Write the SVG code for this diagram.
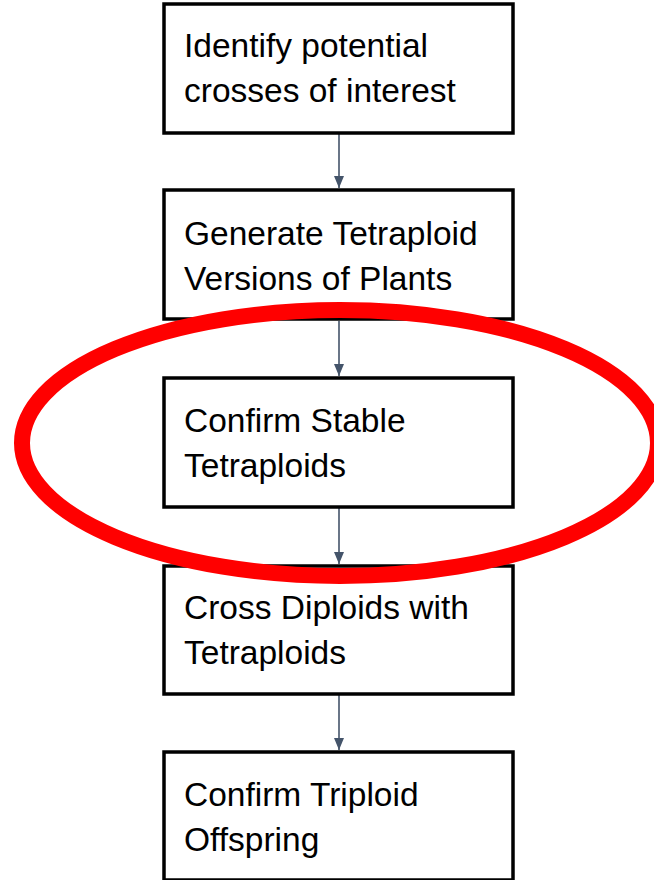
<svg xmlns="http://www.w3.org/2000/svg" width="654" height="880" viewBox="0 0 654 880">
<style>
.box{fill:#fff;stroke:#000;stroke-width:3.5}
.t{font-family:"Liberation Sans",Arial,sans-serif;font-size:33.5px;fill:#000}
.c{stroke:#44546A;stroke-width:1.6;fill:none}
</style>
<defs>
<marker id="ah" markerWidth="12" markerHeight="10" refX="12" refY="5" orient="auto" markerUnits="userSpaceOnUse" viewBox="0 0 12 10">
<path d="M0,0 L12,5 L0,10 Z" fill="#44546A"/>
</marker>
</defs>
<rect width="654" height="880" fill="#fff"/>
<g id="connectors">
<line class="c" x1="339" y1="134" x2="339" y2="188" marker-end="url(#ah)"/>
<line class="c" x1="339" y1="321" x2="339" y2="376" marker-end="url(#ah)"/>
<line class="c" x1="339" y1="508" x2="339" y2="564" marker-end="url(#ah)"/>
<line class="c" x1="339" y1="695" x2="339" y2="750" marker-end="url(#ah)"/>
</g>
<g id="n1"><rect class="box" x="164" y="4" width="349" height="129"/>
<text class="t" x="184" y="57">Identify potential</text><text class="t" x="184" y="102">crosses of interest</text></g>
<g id="n2"><rect class="box" x="164" y="190" width="349" height="129"/>
<text class="t" x="184" y="245">Generate Tetraploid</text><text class="t" x="184" y="290">Versions of Plants</text></g>
<g id="n3"><rect class="box" x="164" y="378" width="349" height="129"/>
<text class="t" x="184" y="432">Confirm Stable</text><text class="t" x="184" y="477">Tetraploids</text></g>
<g id="n4"><rect class="box" x="164" y="566" width="349" height="128"/>
<text class="t" x="184" y="619">Cross Diploids with</text><text class="t" x="184" y="664">Tetraploids</text></g>
<g id="n5"><rect class="box" x="164" y="752" width="349" height="128"/>
<text class="t" x="184" y="806">Confirm Triploid</text><text class="t" x="184" y="851">Offspring</text></g>
<ellipse id="highlight" cx="340" cy="443" rx="318" ry="133" fill="none" stroke="#FF0000" stroke-width="16"/>
</svg>
